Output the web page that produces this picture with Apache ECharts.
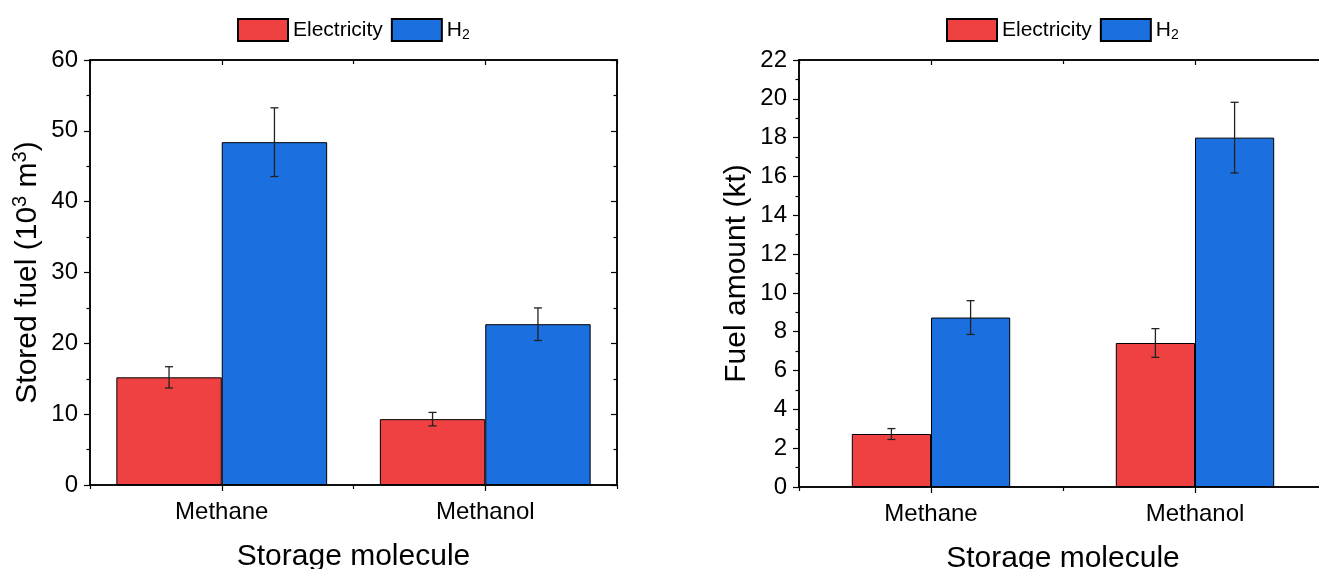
<!DOCTYPE html>
<html>
<head>
<meta charset="utf-8">
<script src="https://cdn.jsdelivr.net/npm/echarts@6/dist/echarts.min.js"></script>
<style>
html,body{margin:0;padding:0;background:#fff;}
#c{width:1319px;height:569px;}
</style>
</head>
<body>
<div id="c"></div>
<script>
// ---------- data ----------
const categories = ['Methane', 'Methanol'];
const seriesNames = ['Electricity', 'H2'];

// Left panel: stored fuel (10^3 m^3)
const leftElec = [15.2, 9.3];
const leftElecErr = [1.5, 0.95];
const leftH2 = [48.4, 22.7];
const leftH2Err = [4.85, 2.3];

// Right panel: fuel amount (kt)
const rightElec = [2.73, 7.42];
const rightElecErr = [0.28, 0.74];
const rightH2 = [8.73, 18.0];
const rightH2Err = [0.87, 1.82];

const leftTicks = { min: 0, max: 60, interval: 10 };
const rightTicks = { min: 0, max: 22, interval: 2 };

// ---------- styling ----------
const FONT = '"Liberation Sans", Arial, Helvetica, sans-serif';
const RED = '#EF4141';
const BLUE = '#1B6FDE';
const AX = '#000';

const chart = echarts.init(document.getElementById('c'), null, { renderer: 'canvas' });

function catAxes(gridIndex) {
  const base = { type: 'category', data: categories, gridIndex: gridIndex };
  return [
    Object.assign({}, base, {
      position: 'bottom',
      axisLine: { show: true, lineStyle: { color: AX, width: 1.5 } },
      axisTick: { show: true, alignWithLabel: true, length: 6, inside: false, lineStyle: { color: AX, width: 1.2 } },
      axisLabel: { show: true, color: '#000', fontSize: 24, fontFamily: FONT, margin: 15 },
      name: 'Storage molecule',
      nameLocation: 'middle',
      nameGap: 57,
      nameTextStyle: { color: '#000', fontSize: 30, fontFamily: FONT, verticalAlign: 'top' },
      splitLine: { show: false }
    }),
    Object.assign({}, base, {
      position: 'bottom',
      axisLine: { show: false },
      axisTick: { show: true, alignWithLabel: false, length: 4, inside: false, lineStyle: { color: AX, width: 1.2 } },
      axisLabel: { show: false },
      splitLine: { show: false }
    }),
    Object.assign({}, base, {
      position: 'top',
      axisLine: { show: true, lineStyle: { color: AX, width: 1.5 } },
      axisTick: { show: true, alignWithLabel: true, length: 5, inside: true, lineStyle: { color: AX, width: 1.2 } },
      axisLabel: { show: false },
      splitLine: { show: false }
    }),
    Object.assign({}, base, {
      position: 'top',
      axisLine: { show: false },
      axisTick: { show: true, alignWithLabel: false, length: 4, inside: true, lineStyle: { color: AX, width: 1.2 } },
      axisLabel: { show: false },
      splitLine: { show: false }
    })
  ];
}

function valAxis(gridIndex, ticks, position, inside, showLabel, name) {
  return {
    type: 'value',
    gridIndex: gridIndex,
    position: position,
    min: ticks.min, max: ticks.max, interval: ticks.interval,
    axisLine: { show: true, lineStyle: { color: AX, width: 1.5 } },
    axisTick: { show: true, inside: inside, length: 6, lineStyle: { color: AX, width: 1.2 } },
    minorTick: { show: true, splitNumber: 2, length: 3.5, lineStyle: { color: AX, width: 1.2 } },
    axisLabel: { show: showLabel, color: '#000', fontSize: 24, fontFamily: FONT, margin: 12 },
    splitLine: { show: false },
    minorSplitLine: { show: false },
    name: name || '',
    nameLocation: 'middle',
    nameRotate: 90,
    nameGap: 44,
    nameTextStyle: {
      color: '#000', fontFamily: FONT,
      rich: {
        a: { fontSize: 30, fontFamily: FONT, color: '#000', lineHeight: 36, verticalAlign: 'middle' },
        p: { fontSize: 20, fontFamily: FONT, color: '#000', lineHeight: 20, verticalAlign: 'top' }
      }
    }
  };
}

function errSeries(name, xi, yi, vals, errs, offsetFrac) {
  const data = vals.map((v, i) => [i, v, errs[i]]);
  return {
    type: 'custom',
    name: name + ' err',
    xAxisIndex: xi, yAxisIndex: yi,
    silent: true,
    z: 10,
    data: data,
    renderItem: function (params, api) {
      const idx = api.value(0);
      const v = api.value(1);
      const e = api.value(2);
      const band = api.size([1, 0])[0];
      const top = api.coord([idx, v + e]);
      const bot = api.coord([idx, v - e]);
      const x = top[0] + band * offsetFrac;
      const cap = 4;
      const style = { stroke: '#222', lineWidth: 1.3, fill: null };
      return {
        type: 'group',
        children: [
          { type: 'line', shape: { x1: x, y1: top[1], x2: x, y2: bot[1] }, style: style },
          { type: 'line', shape: { x1: x - cap, y1: top[1], x2: x + cap, y2: top[1] }, style: style },
          { type: 'line', shape: { x1: x - cap, y1: bot[1], x2: x + cap, y2: bot[1] }, style: style }
        ]
      };
    }
  };
}

function barSeries(name, color, xi, yi, vals, catGap) {
  return {
    type: 'bar',
    name: name,
    xAxisIndex: xi, yAxisIndex: yi,
    data: vals,
    barGap: '0%',
    barCategoryGap: catGap,
    itemStyle: { color: color, borderColor: '#000', borderWidth: 1 },
    emphasis: { disabled: true }
  };
}

const legendCommon = {
  data: seriesNames,
  top: 18,
  padding: 0,
  icon: 'rect',
  itemWidth: 50,
  itemHeight: 22,
  itemGap: 8,
  orient: 'horizontal',
  selectedMode: false,
  textStyle: {
    color: '#000', fontSize: 21, fontFamily: FONT,
    rich: {
      n: { fontSize: 21, fontFamily: FONT, color: '#000', lineHeight: 24, verticalAlign: 'middle' },
      s: { fontSize: 14, fontFamily: FONT, color: '#000', lineHeight: 6, verticalAlign: 'bottom' }
    }
  },
  formatter: function (name) {
    return name === 'H2' ? '{n|H}{s|2}' : '{n|' + name + '}';
  }
};

const option = {
  animation: false,
  backgroundColor: '#fff',
  textStyle: { fontFamily: FONT },
  legend: [
    Object.assign({}, legendCommon, { left: 237 }),
    Object.assign({}, legendCommon, { left: 946 })
  ],
  grid: [
    { left: 90, width: 527, top: 60, height: 425, show: true, borderColor: '#000', borderWidth: 1.5, containLabel: false, outerBoundsMode: 'none' },
    { left: 799, width: 528, top: 60, height: 427, show: true, borderColor: '#000', borderWidth: 1.5, containLabel: false, outerBoundsMode: 'none' }
  ],
  xAxis: catAxes(0).concat(catAxes(1)),
  yAxis: [
    valAxis(0, leftTicks, 'left', false, true, '{a|Stored fuel (10}{p|3}{a| m}{p|3}{a|)}'),
    valAxis(0, leftTicks, 'right', true, false, ''),
    valAxis(1, rightTicks, 'left', false, true, '{a|Fuel amount (kt)}')
  ],
  series: [
    barSeries('Electricity', RED, 0, 0, leftElec, '20%'),
    barSeries('H2', BLUE, 0, 0, leftH2, '20%'),
    errSeries('Electricity', 0, 0, leftElec, leftElecErr, -0.2),
    errSeries('H2', 0, 0, leftH2, leftH2Err, 0.2),
    barSeries('Electricity', RED, 4, 2, rightElec, '40%'),
    barSeries('H2', BLUE, 4, 2, rightH2, '40%'),
    errSeries('Electricity', 4, 2, rightElec, rightElecErr, -0.15),
    errSeries('H2', 4, 2, rightH2, rightH2Err, 0.15)
  ]
};

chart.setOption(option);
</script>
</body>
</html>
